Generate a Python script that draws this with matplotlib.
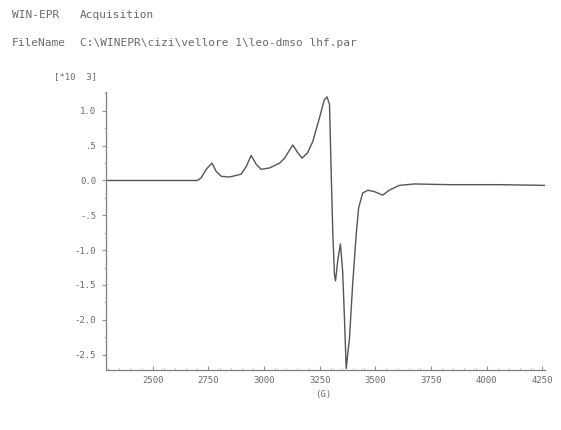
#!/usr/bin/env python3
"""
EPR spectrum printout (WIN-EPR style): first derivative signal vs field
"""

import matplotlib
matplotlib.use('Agg')
import matplotlib.pyplot as plt
from matplotlib.ticker import MultipleLocator

# field in gauss, signal in units of 10^3
field = [2288, 2486, 2701, 2718, 2740, 2766, 2785, 2808, 2845, 2897,
         2920, 2942, 2965, 2987, 3025, 3070, 3092, 3129, 3151, 3171,
         3196, 3219, 3234, 3249, 3271, 3283, 3294, 3301, 3309, 3316,
         3321, 3331, 3343, 3353, 3361, 3369, 3384, 3398, 3414, 3425,
         3443, 3466, 3496, 3533, 3562, 3608, 3675, 3832, 4057, 4259]
signal = [0.00, 0.00, 0.00, 0.04, 0.16, 0.25, 0.13, 0.06, 0.05, 0.09,
          0.20, 0.36, 0.23, 0.16, 0.18, 0.25, 0.32, 0.51, 0.40, 0.32,
          0.40, 0.56, 0.73, 0.90, 1.16, 1.20, 1.09, 0.18, -0.77, -1.34,
          -1.44, -1.15, -0.91, -1.30, -1.96, -2.70, -2.25, -1.49, -0.77, -0.39,
          -0.18, -0.14, -0.16, -0.21, -0.14, -0.07, -0.05, -0.06, -0.06, -0.07]

x_ticks = [2500, 2750, 3000, 3250, 3500, 3750, 4000, 4250]
y_ticks = [-2.5, -2.0, -1.5, -1.0, -0.5, 0.0, 0.5, 1.0]
y_labels = ['-2.5', '-2.0', '-1.5', '-1.0', '-.5', '0.0', '.5', '1.0']

W, H = 561, 430
ink = '#6a6a6a'
mono = 'DejaVu Sans Mono'

fig = plt.figure(figsize=(W / 100, H / 100), dpi=100)
fig.patch.set_facecolor('white')

def px(x, y):
    # pixel position -> figure fraction
    return x / W, 1 - y / H

l, t = px(106, 92)
r, b = px(545, 370)
ax = fig.add_axes([l, b, r - l, t - b])

ax.plot(field, signal, color='#555555', lw=1.0)

ax.set_xlim(2290, 4262)
ax.set_ylim(-2.72, 1.27)

for s in ['top', 'right']:
    ax.spines[s].set_visible(False)
for s in ['left', 'bottom']:
    ax.spines[s].set_color('#808080')
    ax.spines[s].set_linewidth(0.9)

ax.set_xticks(x_ticks)
ax.set_xticklabels([str(v) for v in x_ticks], family=mono, fontsize=6.5, color=ink)
ax.set_yticks(y_ticks)
ax.set_yticklabels(y_labels, family=mono, fontsize=6.5, color=ink)
ax.xaxis.set_minor_locator(MultipleLocator(50))
ax.yaxis.set_minor_locator(MultipleLocator(0.25))
ax.tick_params(axis='x', which='major', direction='in', length=3, color='#909090', pad=4)
ax.tick_params(axis='x', which='minor', direction='in', length=1.5, color='#b0b0b0')
ax.tick_params(axis='y', which='major', direction='out', length=3, color='#909090', pad=4)
ax.tick_params(axis='y', which='minor', direction='out', length=1.5, color='#b0b0b0')

# axis unit labels
fig.text(*px(323, 394), '(G)', family=mono, fontsize=6.5, color=ink, ha='center', va='center')
fig.text(*px(76, 77), '[*10  3]', family=mono, fontsize=6.5, color=ink, ha='center', va='center')

# printout header
fig.text(*px(12, 15), 'WIN-EPR', family=mono, fontsize=8, color=ink, va='center')
fig.text(*px(80, 15), 'Acquisition', family=mono, fontsize=8, color=ink, va='center')
fig.text(*px(12, 43), 'FileName', family=mono, fontsize=8, color=ink, va='center')
fig.text(*px(80, 43), 'C:\\WINEPR\\cizi\\vellore 1\\leo-dmso lhf.par',
         family=mono, fontsize=8, color=ink, va='center')

fig.savefig('out.png', dpi=100, facecolor='white')
